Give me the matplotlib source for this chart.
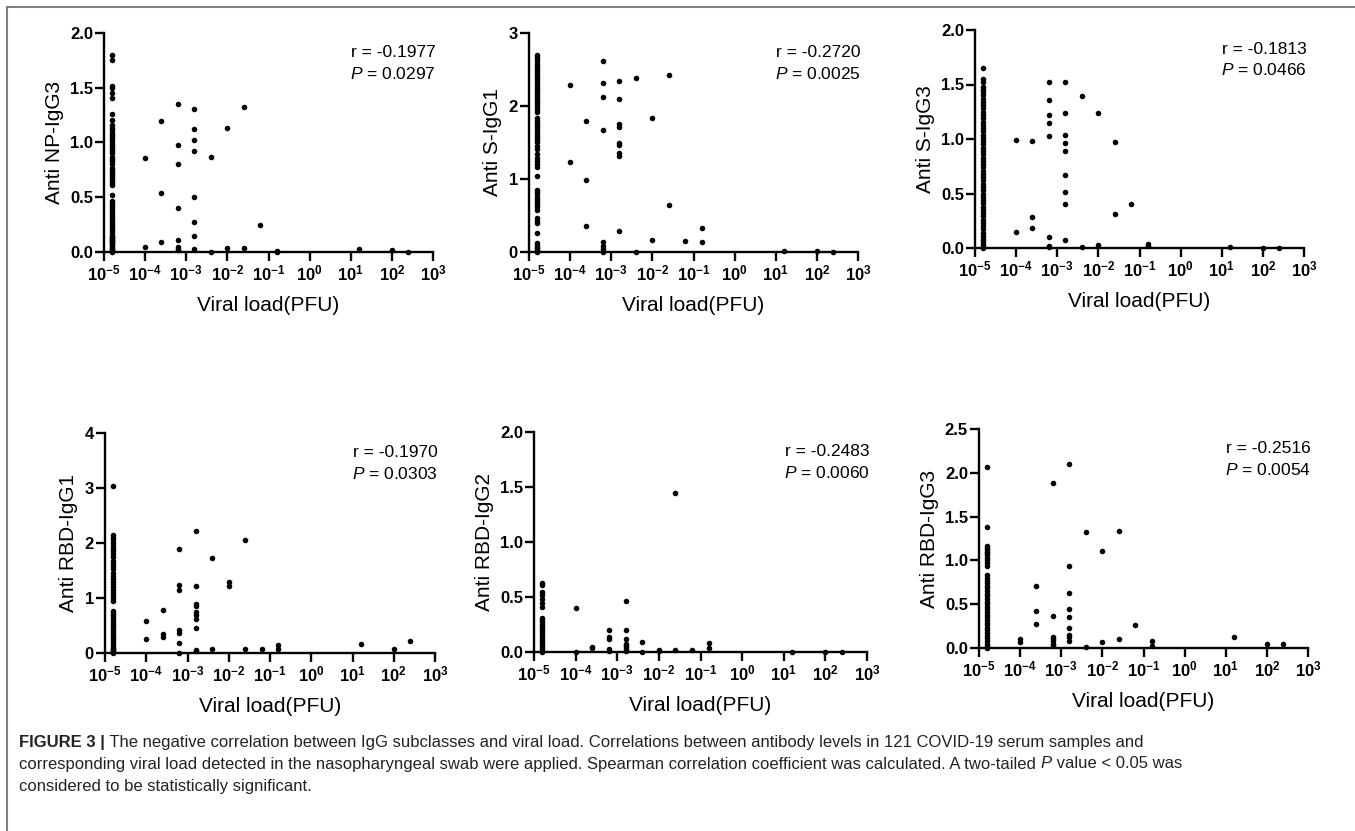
import matplotlib
matplotlib.use("Agg")
import matplotlib.pyplot as plt
from matplotlib.lines import Line2D

plt.rcParams["font.family"] = ["Liberation Sans", "DejaVu Sans"]
plt.rcParams["mathtext.fontset"] = "custom"
plt.rcParams["mathtext.rm"] = "Liberation Sans"
plt.rcParams["mathtext.it"] = "Liberation Sans:italic"
plt.rcParams["mathtext.bf"] = "Liberation Sans:bold"

# ---- data (viral load levels shared by every panel)
VIRAL_LOADS = [1.58e-5, 1e-4, 2.5e-4, 6.3e-4, 1.58e-3, 3.98e-3, 1e-2, 2.5e-2,
               6.3e-2, 0.158, 15.8, 100, 251]

# samples below detection limit (first column), values read top to bottom
NP_IGG3_FLOOR = [1.80, 1.75, 1.52, 1.50, 1.45, 1.41, 1.26, 1.21, 1.16, 1.13, 1.11,
                 1.09, 1.07, 1.05, 1.03, 1.01, 0.99, 0.96, 0.94, 0.92, 0.90, 0.87,
                 0.85, 0.83, 0.80, 0.77, 0.75, 0.73, 0.71, 0.69, 0.67, 0.65, 0.63,
                 0.61, 0.52, 0.47, 0.45, 0.43, 0.41, 0.39, 0.37, 0.35, 0.33, 0.31,
                 0.29, 0.27, 0.25, 0.23, 0.21, 0.19, 0.17, 0.15, 0.14, 0.13, 0.12,
                 0.11, 0.10, 0.09, 0.08, 0.07, 0.06, 0.05, 0.04, 0.03, 0.02, 0.01, 0.0]
S_IGG1_FLOOR = [2.70, 2.67, 2.64, 2.61, 2.58, 2.55, 2.52, 2.49, 2.46, 2.43, 2.40,
                2.37, 2.34, 2.31, 2.28, 2.25, 2.22, 2.19, 2.16, 2.13, 2.10, 2.07,
                2.04, 2.01, 1.98, 1.95, 1.92, 1.83, 1.80, 1.77, 1.74, 1.71, 1.68,
                1.65, 1.62, 1.59, 1.56, 1.53, 1.50, 1.45, 1.41, 1.34, 1.29, 1.25,
                1.21, 1.17, 1.04, 0.85, 0.82, 0.79, 0.76, 0.73, 0.70, 0.67, 0.64,
                0.61, 0.57, 0.46, 0.43, 0.40, 0.26, 0.12, 0.09, 0.07, 0.05, 0.03,
                0.02, 0.01, 0.0]
S_IGG3_FLOOR = [1.65, 1.55, 1.52, 1.48, 1.45, 1.43, 1.40, 1.37, 1.34, 1.31, 1.28,
                1.25, 1.22, 1.19, 1.16, 1.13, 1.10, 1.07, 1.04, 1.01, 0.98, 0.95,
                0.92, 0.89, 0.86, 0.83, 0.80, 0.77, 0.74, 0.71, 0.68, 0.65, 0.62,
                0.59, 0.56, 0.53, 0.50, 0.47, 0.44, 0.41, 0.38, 0.35, 0.32, 0.29,
                0.26, 0.23, 0.20, 0.17, 0.14, 0.11, 0.08, 0.06, 0.04, 0.02, 0.0]
RBD_IGG1_FLOOR = [3.03, 2.15, 2.10, 2.05, 2.00, 1.95, 1.90, 1.85, 1.80, 1.74, 1.68,
                  1.63, 1.58, 1.52, 1.46, 1.40, 1.35, 1.30, 1.25, 1.20, 1.15, 1.10,
                  1.05, 1.00, 0.95, 0.77, 0.73, 0.69, 0.65, 0.61, 0.57, 0.53, 0.49,
                  0.45, 0.41, 0.37, 0.33, 0.29, 0.25, 0.21, 0.17, 0.13, 0.10, 0.07,
                  0.05, 0.03, 0.01, 0.0]
RBD_IGG2_FLOOR = [0.63, 0.61, 0.55, 0.52, 0.48, 0.45, 0.41, 0.31, 0.29, 0.27, 0.25,
                  0.23, 0.21, 0.19, 0.17, 0.15, 0.13, 0.11, 0.09, 0.07, 0.05, 0.03,
                  0.01, 0.0]
RBD_IGG3_FLOOR = [2.07, 1.38, 1.16, 1.14, 1.12, 1.10, 1.08, 1.06, 1.03, 1.00, 0.97,
                  0.94, 0.83, 0.80, 0.77, 0.74, 0.71, 0.68, 0.65, 0.62, 0.59, 0.56,
                  0.53, 0.50, 0.47, 0.44, 0.41, 0.38, 0.35, 0.32, 0.29, 0.26, 0.23,
                  0.20, 0.17, 0.14, 0.11, 0.08, 0.05, 0.02, 0.0]

# detectable samples, grouped by VIRAL_LOADS[1:]
NP_IGG3_REST = [[0.86, 0.05], [1.20, 0.54, 0.09],
                [1.35, 0.98, 0.80, 0.40, 0.11, 0.05, 0.03, 0.02],
                [1.31, 1.12, 1.02, 0.92, 0.50, 0.27, 0.15, 0.03],
                [0.87, 0.0], [1.13, 0.04], [1.32, 0.04], [0.25], [0.01, 0.0],
                [0.03], [0.02], [0.0]]
S_IGG1_REST = [[2.29, 1.23], [1.80, 0.98, 0.35],
               [2.61, 2.31, 2.13, 1.67, 0.14, 0.08, 0.04, 0.0],
               [2.34, 2.10, 1.76, 1.71, 1.49, 1.47, 1.36, 1.31, 0.29],
               [2.39, 0.0], [1.84, 0.17], [2.43, 0.64], [0.15], [0.33, 0.14],
               [0.02], [0.01], [0.0]]
S_IGG3_REST = [[0.99, 0.15], [0.98, 0.28, 0.18],
               [1.52, 1.36, 1.22, 1.15, 1.03, 0.10, 0.02, 0.01],
               [1.52, 1.24, 1.04, 0.96, 0.89, 0.67, 0.51, 0.40, 0.07],
               [1.39, 0.01], [1.24, 0.03], [0.97, 0.31], [0.40], [0.04, 0.02],
               [0.01], [0.0], [0.0]]
RBD_IGG1_REST = [[0.58, 0.25], [0.79, 0.34, 0.29],
                 [1.90, 1.24, 1.14, 0.41, 0.37, 0.19, 0.0],
                 [2.22, 1.21, 0.90, 0.85, 0.75, 0.70, 0.62, 0.45, 0.06, 0.04],
                 [1.73, 0.08], [1.29, 1.22], [2.05, 0.08], [0.08], [0.15, 0.08],
                 [0.16], [0.08], [0.21]]
RBD_IGG2_REST = [[0.40, 0.0], [0.05, 0.04], [0.20, 0.14, 0.12, 0.03, 0.01],
                 [0.46, 0.20, 0.12, 0.07, 0.06, 0.05, 0.03, 0.01],
                 [0.09, 0.0], [0.02, 0.01], [1.45, 0.02], [0.02], [0.08, 0.04],
                 [0.0], [0.0], [0.0]]
RBD_IGG3_REST = [[0.10, 0.07], [0.71, 0.42, 0.27],
                 [1.88, 0.37, 0.12, 0.10, 0.08, 0.05, 0.03],
                 [2.10, 0.94, 0.63, 0.45, 0.35, 0.23, 0.15, 0.12, 0.08],
                 [1.32, 0.01], [1.11, 0.07], [1.33, 0.10], [0.26], [0.08, 0.02],
                 [0.13], [0.05], [0.05]]

LABELS = ["Anti NP-IgG3", "Anti S-IgG1", "Anti S-IgG3",
          "Anti RBD-IgG1", "Anti RBD-IgG2", "Anti RBD-IgG3"]
R_VALUES = ["-0.1977", "-0.2720", "-0.1813", "-0.1970", "-0.2483", "-0.2516"]
P_VALUES = ["0.0297", "0.0025", "0.0466", "0.0303", "0.0060", "0.0054"]
Y_MAX = [2.0, 3, 2.0, 4, 2.0, 2.5]
Y_STEP = [0.5, 1, 0.5, 1, 0.5, 0.5]
FLOORS = [NP_IGG3_FLOOR, S_IGG1_FLOOR, S_IGG3_FLOOR,
          RBD_IGG1_FLOOR, RBD_IGG2_FLOOR, RBD_IGG3_FLOOR]
RESTS = [NP_IGG3_REST, S_IGG1_REST, S_IGG3_REST,
         RBD_IGG1_REST, RBD_IGG2_REST, RBD_IGG3_REST]

W, H = 1355, 831
# panel boxes in pixels: left, top, right, bottom
BOXES = [(104, 33, 433, 252), (529, 33, 858, 252), (975, 30, 1304, 248),
         (105, 433, 435, 653), (534, 432, 867, 652), (979, 429, 1308, 648)]

fig = plt.figure(figsize=(W / 100, H / 100), dpi=100)

for i, (l, t, r, b) in enumerate(BOXES):
    ax = fig.add_axes([l / W, 1 - b / H, (r - l) / W, (b - t) / H])
    xs = [VIRAL_LOADS[0]] * len(FLOORS[i])
    ys = list(FLOORS[i])
    for xv, grp in zip(VIRAL_LOADS[1:], RESTS[i]):
        xs += [xv] * len(grp)
        ys += grp
    ax.scatter(xs, ys, s=16, c="black", linewidths=0, clip_on=False, zorder=3)
    ax.set_xscale("log")
    ax.set_xlim(1e-5, 1e3)
    ax.set_ylim(0, Y_MAX[i])
    ax.set_xticks([10.0 ** k for k in range(-5, 4)])
    ax.set_xticklabels([r"$\mathbf{10^{%d}}$" % k for k in range(-5, 4)])
    ax.minorticks_off()
    step = Y_STEP[i]
    n = int(round(Y_MAX[i] / step))
    yt = [j * step for j in range(n + 1)]
    ax.set_yticks(yt)
    if step < 1:
        ax.set_yticklabels(["%.1f" % v for v in yt])
    else:
        ax.set_yticklabels(["%d" % v for v in yt])
    for s in ("top", "right"):
        ax.spines[s].set_visible(False)
    for s in ("left", "bottom"):
        ax.spines[s].set_linewidth(1.7)
    ax.tick_params(length=6.5, width=1.7, pad=1.5, labelsize=12)
    for lab in ax.get_yticklabels():
        lab.set_fontweight("bold")
    ax.set_xlabel("Viral load(PFU)", fontsize=15, labelpad=9)
    ax.set_ylabel(LABELS[i], fontsize=15, labelpad=4.5)
    ax.text(1.009, 0.91, "r = " + R_VALUES[i], transform=ax.transAxes,
            ha="right", va="center", fontsize=12.5)
    ax.text(1.009, 0.815, r"$\mathit{P}$ = " + P_VALUES[i], transform=ax.transAxes,
            ha="right", va="center", fontsize=12.5)

# frame around the figure (top and left edges visible)
fig.add_artist(Line2D([7 / W, 7 / W], [0, 1 - 7 / H], color="#808080", lw=1.5))
fig.add_artist(Line2D([7 / W, 1], [1 - 7 / H, 1 - 7 / H], color="#808080", lw=1.5))

# caption, drawn run by run so bold/italic pieces sit inline
CAP_FONT = ["Liberation Sans Narrow", "Liberation Sans"]
CAP_SIZE = 12
CAP_LINES = [
    [("FIGURE 3 |", "bold", "normal"),
     (" The negative correlation between IgG subclasses and viral load. Correlations "
      "between antibody levels in 121 COVID-19 serum samples and", "normal", "normal")],
    [("corresponding viral load detected in the nasopharyngeal swab were applied. "
      "Spearman correlation coefficient was calculated. A two-tailed ", "normal", "normal"),
     ("P", "normal", "italic"),
     (" value < 0.05 was", "normal", "normal")],
    [("considered to be statistically significant.", "normal", "normal")],
]
CAP_Y = [742, 764, 786]
renderer = fig.canvas.get_renderer()
for line, yy in zip(CAP_LINES, CAP_Y):
    x = 19 / W
    for txt, weight, style in line:
        t = fig.text(x, 1 - yy / H, txt, fontsize=CAP_SIZE, fontweight=weight,
                     fontstyle=style, family=CAP_FONT, color="#222222",
                     va="center", ha="left")
        x += t.get_window_extent(renderer).width / W

fig.savefig("out.png", dpi=100)
